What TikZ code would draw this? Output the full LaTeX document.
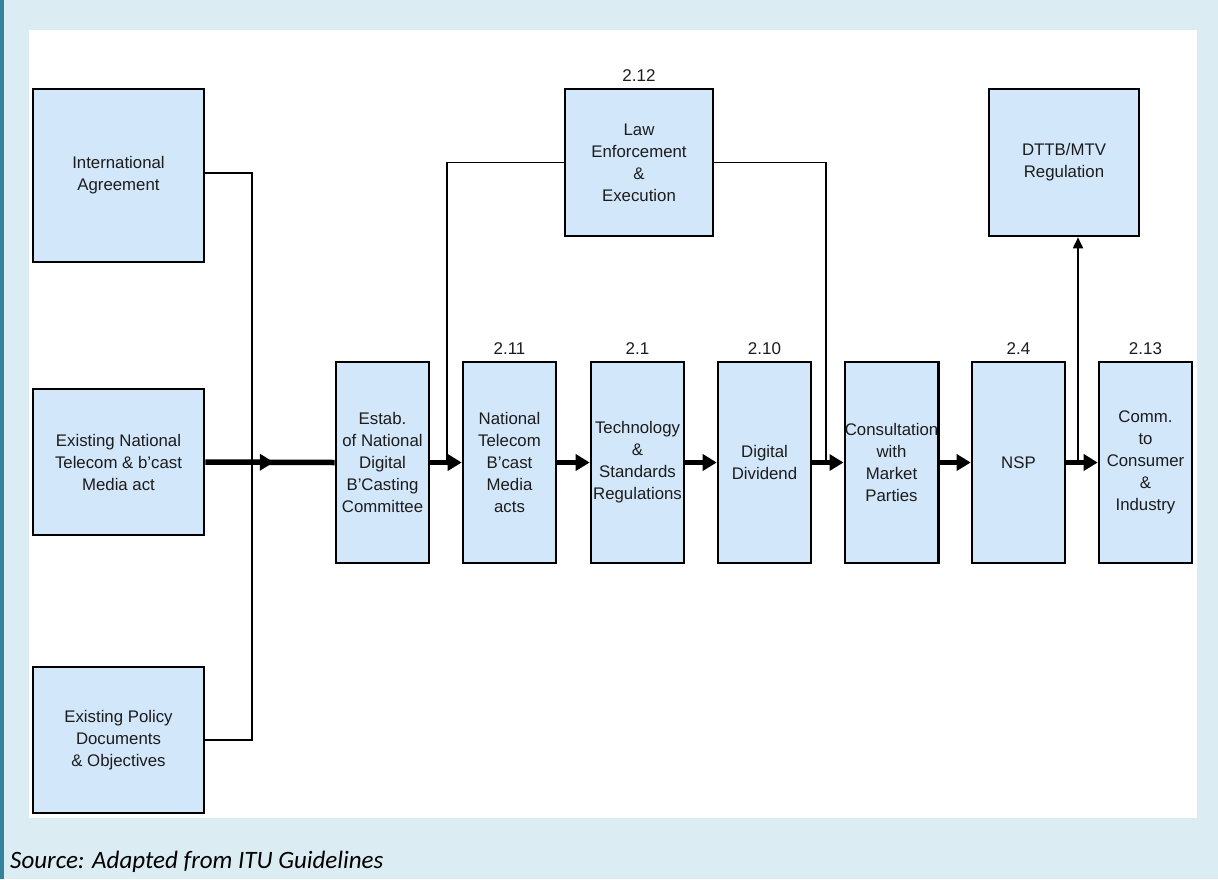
\documentclass[tikz,border=0pt]{standalone}
\usepackage{fontspec}
\setmainfont{Liberation Sans}
\newfontfamily\srcfont{Carlito}
\usetikzlibrary{arrows.meta,positioning,decorations.markings}
\definecolor{pagebg}{HTML}{DBEDF3}
\definecolor{sidebar}{HTML}{31849B}
\definecolor{boxfill}{HTML}{D3E7FA}
\definecolor{ink}{HTML}{1C1C1C}

\begin{document}
\begin{tikzpicture}[x=1pt, y=-1pt]
		\tikzset{
			box/.style={draw=black, line width=2.6pt, fill=boxfill, text=ink, align=center, inner sep=0pt,
				font=\fontsize{16.8}{22}\selectfont},
			sidebox/.style={box, minimum width=171pt, minimum height=146pt},
			mainbox/.style={box, minimum width=93pt, minimum height=201pt},
			topbox/.style={box, minimum width=148pt, minimum height=147pt},
			num/.style={text=ink, inner sep=1pt, font=\fontsize{17}{20}\selectfont},
			link/.style={draw=black, line width=1.8pt},
			flow/.style={draw=black, line width=5.5pt, -{Triangle[length=14pt, width=16pt]}},
			midflow/.style={draw=black, line width=5.5pt, postaction={decorate},
				decoration={markings, mark=at position 0.53 with {\arrow{Triangle[length=14pt, width=16pt]}}}}
		}

		% BACKGROUND
		\useasboundingbox (0,0) rectangle (1218,879);
		\fill[pagebg] (0,0) rectangle (1218,879);
		\fill[sidebar] (0,0) rectangle (4,879);
		\fill[white] (29,30) rectangle (1197,818);

		% LEFT: INPUTS
		\node[sidebox, minimum height=173pt] (intl) at (118.5,175.5) {International\\Agreement};
		\node[sidebox] (natact) at (118.5,462) {Existing National\\Telecom \& b'cast\\Media act};
		\node[sidebox] (policy) at (118.5,740) {Existing Policy\\Documents\\\& Objectives};

		% MAIN ROW
		\node[mainbox] (estab) at (382.5,462.5) {Estab.\\of National\\Digital\\B'Casting\\Committee};
		\node[mainbox] (telecom) at (509.5,462.5) {National\\Telecom\\B'cast\\Media\\acts};
		\node[mainbox] (tech) at (637.5,462.5) {Technology\\\&\\Standards\\Regulations};
		\node[mainbox] (divid) at (764.5,462.5) {Digital\\Dividend};
		\node[mainbox] (consult) at (891.5,462.5) {Consultation\\with\\Market\\Parties};
		\node[mainbox] (nsp) at (1018.5,462.5) {NSP};
		\node[mainbox] (comm) at (1145.5,462.5) {Comm.\\to\\Consumer\\\&\\Industry};

		% TOP ROW
		\node[topbox] (law) at (639,162.5) {Law\\Enforcement\\\&\\Execution};
		\node[topbox, minimum width=150pt] (dttb) at (1064,162.5) {DTTB/MTV\\Regulation};

		% Section numbers
		\node[num, above=5pt of law] (n212) {2.12};
		\node[num, above=5pt of telecom] (n211) {2.11};
		\node[num, above=5pt of tech] (n21) {2.1};
		\node[num, above=5pt of divid] (n210) {2.10};
		\node[num, above=5pt of nsp] (n24) {2.4};
		\node[num, above=5pt of comm] (n213) {2.13};

		% Junctions on the lines
		\coordinate (merge) at (252,462);
		\coordinate (lawL) at (447,462);
		\coordinate (lawR) at (826,462);
		\coordinate (split) at (1078,462);

		% Inputs merging into the main flow
		\draw[link] (intl.east |- 0,173) -| (merge) |- (policy.east);
		\draw[midflow] (natact.east) -- (estab.west);

		% Main flow
		\draw[flow] (estab) -- (telecom);
		\draw[flow] (telecom) -- (tech);
		\draw[flow] (tech) -- (divid);
		\draw[flow] (divid) -- (consult);
		\draw[flow] (consult) -- (nsp);
		\draw[flow] (nsp) -- (comm);

		% Law enforcement feeds
		\draw[link] (law.west) -| (lawL);
		\draw[link] (law.east) -| (lawR);

		% Branch up to DTTB/MTV
		\draw[link, -{Triangle[length=11pt, width=10pt]}] (split) -- (split |- dttb.south);

		% Source line
		\node[anchor=base west, inner sep=0pt, text=black, font=\srcfont\itshape\fontsize{25}{29}\selectfont] (src) at (10,868) {Source: Adapted from ITU Guidelines};

	\end{tikzpicture}
\end{document}
